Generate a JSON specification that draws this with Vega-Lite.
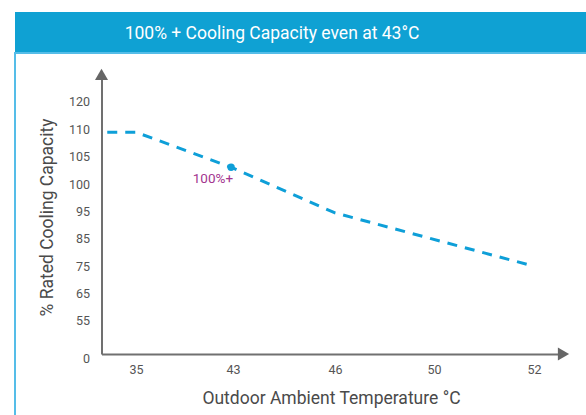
{
  "$schema": "https://vega.github.io/schema/vega-lite/v6.json",
  "padding": {"left": 14, "top": 12, "right": 0, "bottom": 0},
  "background": "white",
  "spacing": 0,
  "config": {"font": "Roboto", "view": {"stroke": null}},
  "vconcat": [
    {
      "width": 572,
      "height": 40,
      "view": {"fill": "#0fa1d3", "stroke": null},
      "data": {"values": [{"title": "100% + Cooling Capacity even at 43°C"}]},
      "mark": {"type": "text", "color": "white", "fontSize": 17.5, "font": "Roboto", "baseline": "middle", "align": "center", "dx": -29, "dy": 1.5},
      "encoding": {"text": {"field": "title"}}
    },
    {
      "width": 572,
      "height": 363,
      "view": {"stroke": "#55bde8", "strokeWidth": 2},
      "encoding": {
        "x": {
          "field": "temp",
          "type": "quantitative",
          "scale": {"domain": [32, 35, 43, 46, 50, 52, 54], "range": [86.5, 121, 218, 320, 419, 519, 548.5], "nice": false, "zero": false},
          "axis": {
            "orient": "bottom", "offset": -62, "values": [35, 43, 46, 50, 52],
            "title": "Outdoor Ambient Temperature °C",
            "ticks": false, "tickSize": 0, "grid": false,
            "domainColor": "#707070", "domainWidth": 2,
            "labelFont": "Roboto", "labelFontSize": 12.5, "labelColor": "#555555", "labelPadding": 9,
            "labelFlush": false, "labelOverlap": false,
            "titleFont": "Roboto", "titleFontSize": 17.5, "titleFontWeight": "normal", "titleColor": "#4a4a4a",
            "titleX": 316, "titleY": 49, "titleBaseline": "alphabetic", "titleAlign": "center"
          }
        },
        "y": {
          "field": "cap",
          "type": "quantitative",
          "scale": {"domain": [0, 55, 65, 75, 85, 95, 100, 105, 110, 120, 130], "range": [301, 267, 240, 213, 185, 158, 131, 103, 76, 48, 21.4], "nice": false, "zero": false},
          "axis": {
            "orient": "left", "offset": -86.5, "values": [0, 55, 65, 75, 85, 95, 100, 105, 110, 120],
            "title": "% Rated Cooling Capacity",
            "ticks": false, "tickSize": 0, "grid": false,
            "domainColor": "#707070", "domainWidth": 2,
            "labelFont": "Roboto", "labelFontSize": 12.5, "labelColor": "#555555", "labelPadding": 12,
            "labelFlush": false, "labelOverlap": false,
            "labelOffset": {"condition": {"test": "datum.value === 0", "value": 4}, "value": 0},
            "titleFont": "Roboto", "titleFontSize": 17.5, "titleFontWeight": "normal", "titleColor": "#4a4a4a",
            "titleX": -49, "titleY": 164, "titleAngle": -90, "titleBaseline": "alphabetic", "titleAlign": "center"
          }
        }
      },
      "layer": [
        {
          "data": {"values": [
            {"temp": 32.5, "cap": 109.4},
            {"temp": 35, "cap": 109.4},
            {"temp": 42.84, "cap": 103},
            {"temp": 46, "cap": 94.3},
            {"temp": 51.9, "cap": 75.4}
          ]},
          "mark": {"type": "line", "color": "#0e9fd8", "strokeWidth": 3, "strokeDash": [10, 8]}
        },
        {
          "data": {"values": [{"temp": 42.84, "cap": 103, "label": "100%+"}]},
          "mark": {"type": "point", "filled": true, "size": 55, "color": "#0e9fd8", "opacity": 1}
        },
        {
          "data": {"values": [{"temp": 42.84, "cap": 103, "label": "100%+"}]},
          "mark": {"type": "text", "align": "right", "baseline": "middle", "dx": 2, "dy": 12, "fontSize": 13.5, "font": "Roboto", "color": "#a3358f"},
          "encoding": {"text": {"field": "label"}}
        },
        {
          "data": {"values": [{"temp": 32, "cap": 130}]},
          "mark": {"type": "point", "shape": "triangle-up", "filled": true, "size": 169, "color": "#666666", "opacity": 1}
        },
        {
          "data": {"values": [{"temp": 54, "cap": 0}]},
          "mark": {"type": "point", "shape": "triangle-right", "filled": true, "size": 169, "color": "#666666", "opacity": 1}
        }
      ]
    }
  ]
}
